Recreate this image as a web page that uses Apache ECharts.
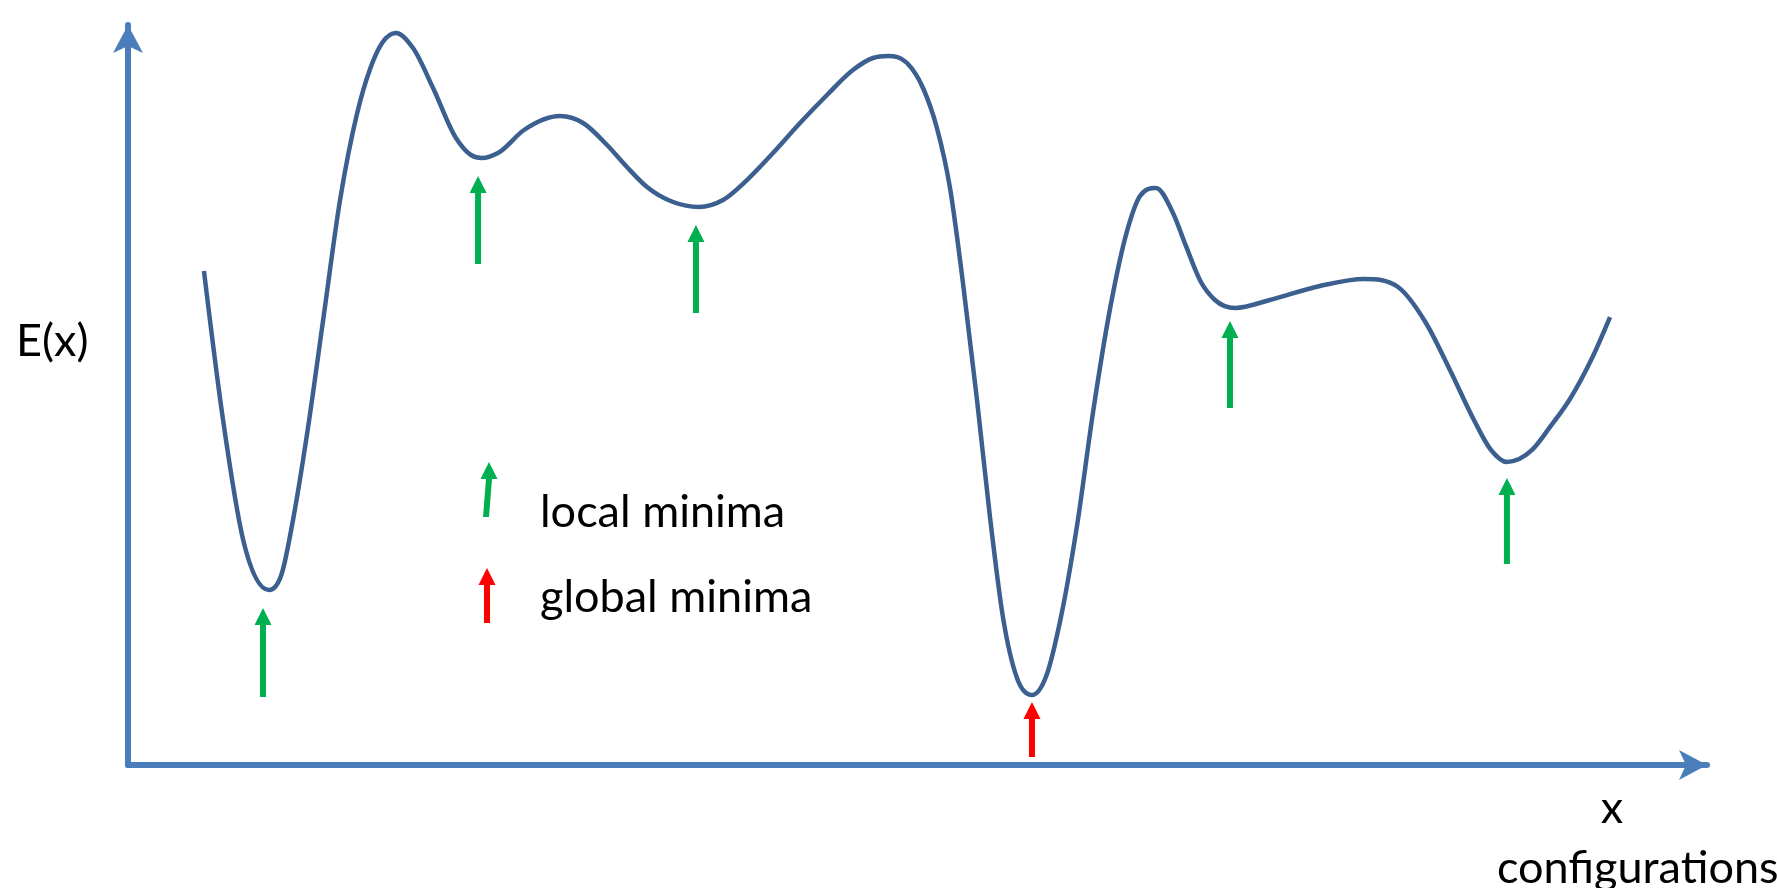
<!DOCTYPE html>
<html>
<head>
<meta charset="utf-8">
<script src="https://cdn.jsdelivr.net/npm/echarts@6/dist/echarts.min.js"></script>
<style>
  html, body { margin: 0; padding: 0; background: #ffffff; }
  #chart { width: 1777px; height: 888px; }
</style>
</head>
<body>
<div id="chart"></div>
<script>
// Energy landscape E(x) (x: 0-100 configuration units, E: 0-100)
const configX = [4.81, 6.02, 7.28, 8.93, 9.75, 10.45, 11.34, 12.35, 13.43, 14.50,
  15.33, 16.09, 16.97, 18.05, 19.32, 20.77, 21.72, 22.42, 23.43, 25.08,
  27.36, 28.82, 30.34, 31.60, 32.87, 34.52, 36.16, 37.68, 39.20, 40.85,
  42.56, 44.27, 45.91, 47.18, 48.13, 49.34, 50.35, 51.23, 52.06, 52.88,
  53.77, 54.59, 55.41, 56.30, 57.25, 58.20, 59.02, 60.10, 61.11, 62.19,
  63.27, 64.09, 65.10, 66.18, 67.00, 67.95, 68.84, 70.11, 72.32, 75.49,
  78.28, 80.43, 82.20, 83.72, 85.24, 86.32, 87.33, 88.92, 90.06, 91.32,
  92.72, 93.86];
const energyE = [66.76, 46.62, 30.54, 23.65, 25.95, 33.11, 44.73, 60.00, 76.35, 87.97,
  94.05, 97.57, 98.92, 96.89, 91.49, 84.73, 82.43, 82.03, 82.70, 85.81,
  87.70, 86.76, 83.78, 80.81, 78.11, 76.08, 75.41, 76.35, 79.05, 82.70,
  86.76, 90.54, 93.92, 95.54, 95.81, 94.86, 91.49, 86.08, 77.97, 65.14,
  49.32, 33.51, 20.00, 11.76, 9.46, 12.30, 19.32, 32.30, 47.57, 61.62,
  72.16, 76.89, 77.97, 74.59, 70.14, 65.27, 62.84, 61.76, 62.84, 64.73,
  65.68, 64.59, 59.73, 53.38, 46.62, 42.57, 40.95, 42.57, 45.68, 49.46,
  55.00, 60.54];

// Minima markers: x position, arrow tip E, arrow tail E, kind
const minimaX    = [8.55, 22.17, 35.97, 57.25, 69.79, 87.33];
const minimaTip  = [21.22, 79.59, 72.97, 8.51, 60.00, 38.78];
const minimaTail = [9.19, 67.70, 61.08, 1.08, 48.24, 27.16];
const minimaKind = ['local', 'local', 'local', 'global', 'local', 'local'];

const legendLabels = ['local minima', 'global minima'];
const yAxisName = 'E(x)';
const xAxisNames = ['x', 'configurations'];

const AXIS = '#4A7EBB';
const CURVE = '#3B5F8E';
const GREEN = '#00B050';
const RED = '#FF0000';
const FONT = 'Lato, "Open Sans", sans-serif';
const FS = '45px ';

const curveData = configX.map((x, i) => [x, energyE[i]]);
const arrowData = minimaX.map((x, i) => [x, minimaTip[i], minimaTail[i], minimaKind[i] === 'global' ? 1 : 0]);

function arrowPoints(tx, ty, bx, by) {
  const hw = 8.5, sw = 3, hl = 17;
  return [[tx, ty], [tx + hw, ty + hl], [tx + sw, ty + hl], [bx + sw, by],
          [bx - sw, by], [tx - sw, ty + hl], [tx - hw, ty + hl]];
}

// Monotone cubic Hermite path through pixel points (flat tangents at extrema)
function monotonePath(pts) {
  const n = pts.length;
  const h = [], s = [];
  for (let i = 0; i < n - 1; i++) {
    h.push(pts[i + 1][0] - pts[i][0]);
    s.push((pts[i + 1][1] - pts[i][1]) / h[i]);
  }
  const m = new Array(n);
  for (let i = 1; i < n - 1; i++) {
    if (s[i - 1] * s[i] <= 0) { m[i] = 0; continue; }
    const p = (s[i - 1] * h[i] + s[i] * h[i - 1]) / (h[i - 1] + h[i]);
    m[i] = Math.sign(p) * Math.min(Math.abs(p), 3 * Math.abs(s[i - 1]), 3 * Math.abs(s[i]));
  }
  m[0] = (3 * s[0] - m[1]) / 2;
  m[n - 1] = (3 * s[n - 2] - m[n - 2]) / 2;
  let d = 'M' + pts[0][0] + ',' + pts[0][1];
  for (let i = 0; i < n - 1; i++) {
    const dx = h[i] / 3;
    d += 'C' + (pts[i][0] + dx) + ',' + (pts[i][1] + dx * m[i]) + ',' +
         (pts[i + 1][0] - dx) + ',' + (pts[i + 1][1] - dx * m[i + 1]) + ',' +
         pts[i + 1][0] + ',' + pts[i + 1][1];
  }
  return d;
}

const chart = echarts.init(document.getElementById('chart'));
const axisCommon = {
  type: 'value', min: 0, max: 100,
  axisLine: { show: true, symbol: ['none', 'arrow'], symbolSize: [22.5, 28],
              lineStyle: { color: AXIS, width: 6 } },
  axisTick: { show: false }, axisLabel: { show: false }, splitLine: { show: false }
};

function label(text, x, y, align) {
  return { type: 'text', x: x, y: y,
    style: { text: text, font: FS + FONT, fill: '#000', verticalAlign: 'middle', align: align } };
}

chart.setOption({
  animation: false,
  backgroundColor: '#ffffff',
  grid: { left: 128, right: 70, top: 25, bottom: 123, containLabel: false },
  xAxis: axisCommon,
  yAxis: axisCommon,
  series: [
    {
      type: 'custom',
      name: 'minima',
      clip: false,
      data: arrowData,
      renderItem: function (params, api) {
        const tip = api.coord([api.value(0), api.value(1)]);
        const tail = api.coord([api.value(0), api.value(2)]);
        return {
          type: 'polygon',
          shape: { points: arrowPoints(tip[0], tip[1], tail[0], tail[1]) },
          style: { fill: api.value(3) === 1 ? RED : GREEN }
        };
      }
    },
    {
      type: 'custom',
      name: 'E(x)',
      clip: false,
      data: curveData,
      z: 3,
      renderItem: function (params, api) {
        if (params.dataIndex !== 0) return null;
        const pts = curveData.map(p => api.coord(p));
        return {
          type: 'path',
          shape: { pathData: monotonePath(pts) },
          style: { fill: 'none', stroke: CURVE, lineWidth: 4.5, lineJoin: 'round', lineCap: 'butt' }
        };
      }
    }
  ],
  graphic: [
    { type: 'polygon', shape: { points: arrowPoints(489, 462, 486, 517) }, style: { fill: GREEN } },
    { type: 'polygon', shape: { points: arrowPoints(487, 568, 487, 623) }, style: { fill: RED } },
    label(legendLabels[0], 540, 512, 'left'),
    label(legendLabels[1], 540, 597, 'left'),
    label(yAxisName, 16, 341, 'left'),
    label(xAxisNames[0], 1612, 808, 'center'),
    label(xAxisNames[1], 1497, 868, 'left')
  ]
});
</script>
</body>
</html>
